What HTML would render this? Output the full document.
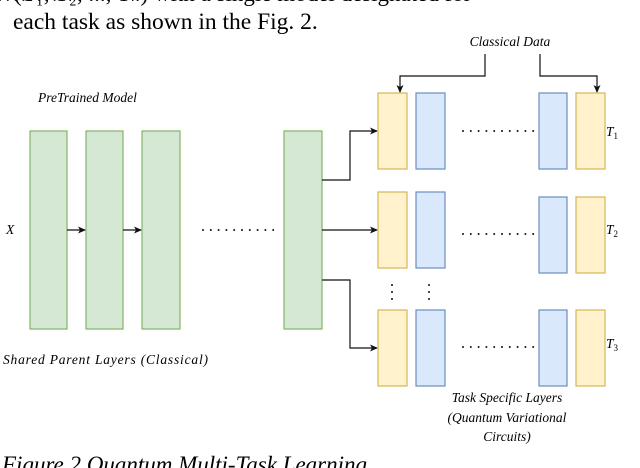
<!DOCTYPE html>
<html><head><meta charset="utf-8"><style>
html,body{margin:0;padding:0;background:#fff;width:640px;height:468px;overflow:hidden}
svg{display:block}
.s{font-family:"Liberation Serif",serif}
.i{font-family:"Liberation Serif",serif;font-style:italic;font-size:13.5px}
</style></head><body>
<svg width="640" height="468" viewBox="0 0 640 468" xmlns="http://www.w3.org/2000/svg">
<defs><marker id="a" markerWidth="8" markerHeight="8" refX="7" refY="4" orient="auto" markerUnits="userSpaceOnUse"><path d="M0,0.5 L8,4 L0,7.5 L2,4z" fill="#111"/></marker></defs>
<text class="s" x="14" y="1" font-size="23">(T₁, T₂, ..., Tₖ) with a single model designated for</text>
<text class="s" x="13" y="29" font-size="23.5">each task as shown in the Fig. 2.</text>
<text class="i" x="510" y="46" text-anchor="middle">Classical Data</text>
<text class="i" x="38" y="102">PreTrained Model</text>
<g fill="#d5e8d4" stroke="#82b366" stroke-width="1.2">
<rect x="30" y="131" width="37" height="198"/><rect x="86" y="131" width="37" height="198"/><rect x="142" y="131" width="38" height="198"/><rect x="284" y="131" width="38" height="198"/></g>
<text class="i" x="6" y="234">X</text>
<g stroke="#111" stroke-width="1.2" fill="none">
<line x1="67" y1="230" x2="85" y2="230" marker-end="url(#a)"/>
<line x1="123" y1="230" x2="141" y2="230" marker-end="url(#a)"/>
<polyline points="322,180 350,180 350,131 377,131" marker-end="url(#a)"/>
<line x1="322" y1="230" x2="377" y2="230" marker-end="url(#a)"/>
<polyline points="322,280 350,280 350,348 377,348" marker-end="url(#a)"/>
<polyline points="485,54 485,76 400,76 400,92" marker-end="url(#a)"/>
<polyline points="540,54 540,76 597,76 597,92" marker-end="url(#a)"/>
</g>
<g fill="#111">
<g id="d"><circle cx="0" cy="0" r="1"/><circle cx="7.8" cy="0" r="1"/><circle cx="15.6" cy="0" r="1"/><circle cx="23.4" cy="0" r="1"/><circle cx="31.2" cy="0" r="1"/><circle cx="39" cy="0" r="1"/><circle cx="46.8" cy="0" r="1"/><circle cx="54.6" cy="0" r="1"/><circle cx="62.4" cy="0" r="1"/><circle cx="70.2" cy="0" r="1"/></g>
</g>
<g fill="#111">
<use href="#d" x="203" y="230"/>
<use href="#d" x="463" y="131"/>
<use href="#d" x="463" y="234"/>
<use href="#d" x="463" y="347"/>
<circle cx="392" cy="285" r="1"/><circle cx="392" cy="292" r="1"/><circle cx="392" cy="299" r="1"/>
<circle cx="429" cy="285" r="1"/><circle cx="429" cy="292" r="1"/><circle cx="429" cy="299" r="1"/>
</g>
<g fill="#fff2cc" stroke="#d6b656" stroke-width="1.2">
<rect x="378" y="93" width="29" height="76"/><rect x="576" y="93" width="29" height="76"/>
<rect x="378" y="192" width="29" height="76"/><rect x="576" y="197" width="29" height="76"/>
<rect x="378" y="310" width="29" height="76"/><rect x="576" y="310" width="29" height="76"/></g>
<g fill="#dae8fc" stroke="#6c8ebf" stroke-width="1.2">
<rect x="416" y="93" width="29" height="76"/><rect x="539" y="93" width="28" height="76"/>
<rect x="416" y="192" width="29" height="76"/><rect x="539" y="197" width="28" height="76"/>
<rect x="416" y="310" width="29" height="76"/><rect x="539" y="310" width="28" height="76"/></g>
<text class="i" x="606" y="136">T<tspan font-size="9" font-style="normal" dy="3">1</tspan></text>
<text class="i" x="606" y="234">T<tspan font-size="9" font-style="normal" dy="3">2</tspan></text>
<text class="i" x="606" y="348">T<tspan font-size="9" font-style="normal" dy="3">3</tspan></text>
<text class="i" x="3" y="364" textLength="205">Shared Parent Layers (Classical)</text>
<text class="i" x="507" y="402" text-anchor="middle">Task Specific Layers</text>
<text class="i" x="507" y="422" text-anchor="middle">(Quantum Variational</text>
<text class="i" x="507" y="441" text-anchor="middle">Circuits)</text>
<text class="s" x="2" y="472" font-size="23" font-style="italic">Figure 2 Quantum Multi-Task Learning</text>
</svg>
</body></html>
